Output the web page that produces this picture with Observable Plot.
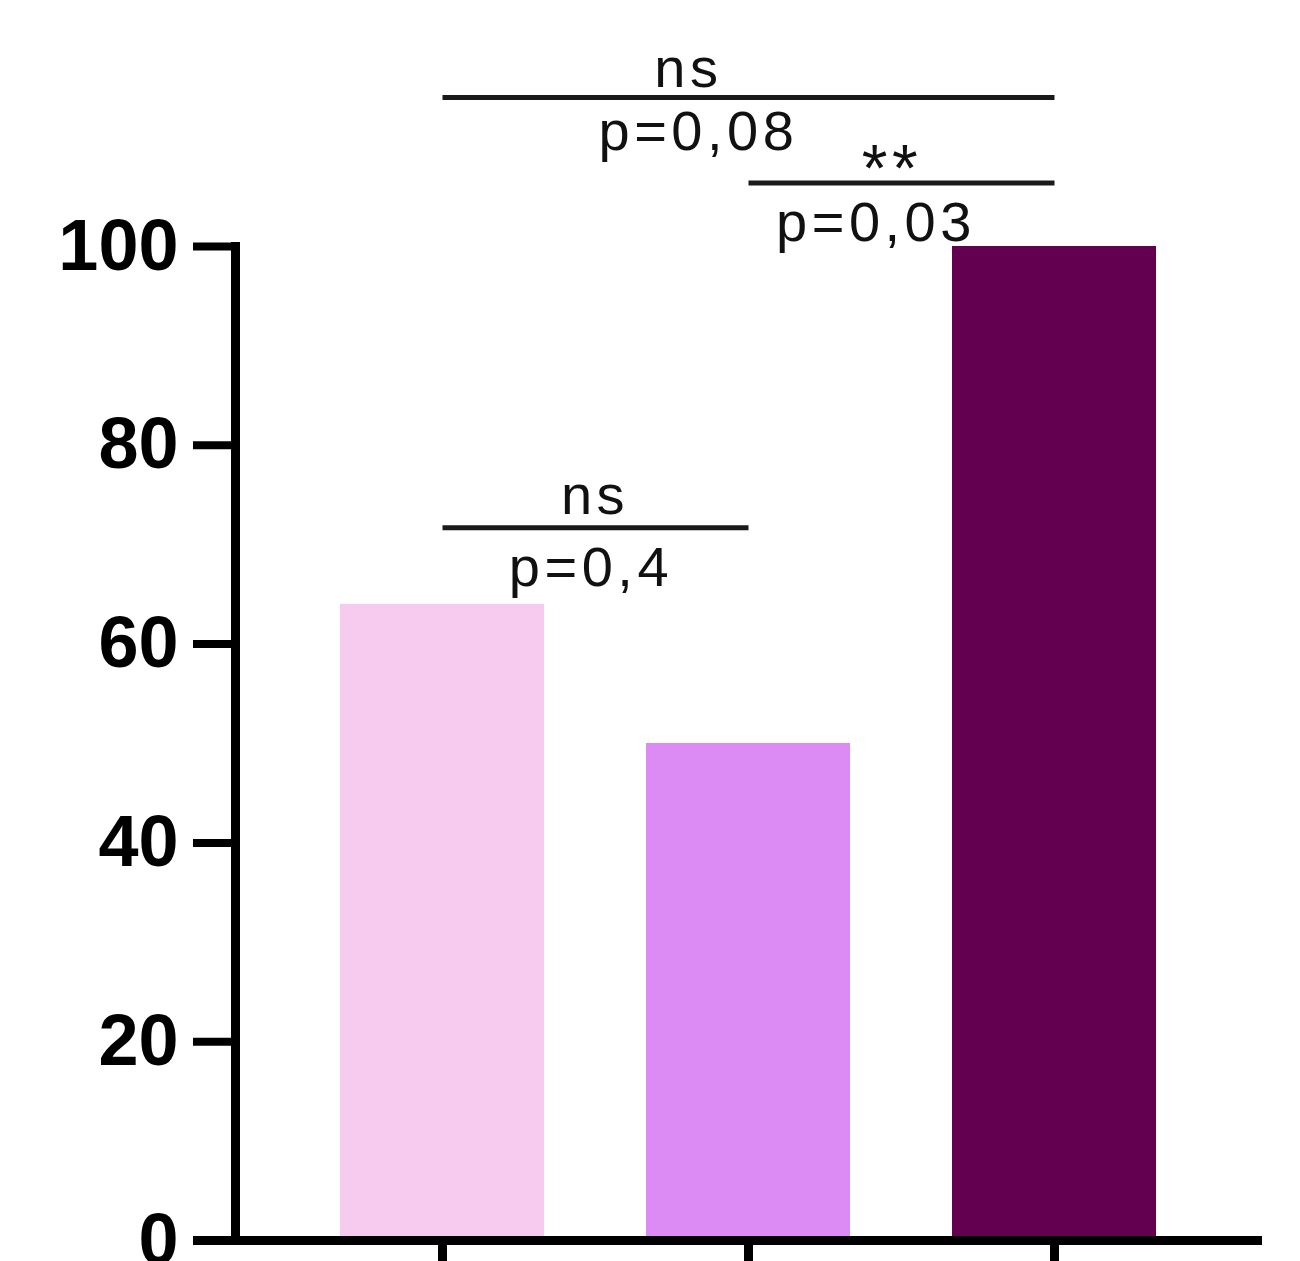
<!DOCTYPE html>
<html>
<head>
<meta charset="utf-8">
<script src="https://cdn.jsdelivr.net/npm/d3@7"></script>
<script src="https://cdn.jsdelivr.net/npm/@observablehq/plot@0.6"></script>
<style>
  html, body { margin: 0; padding: 0; background: #fff; }
  #chart svg { display: block; }
  #chart g[aria-label="text"] text { letter-spacing: 4.5px; }
</style>
</head>
<body>
<div id="chart"></div>
<script>
// ---- data ----
const groups = ["Group 1", "Group 2", "Group 3"];
const values = [64, 50, 100];
const barColors = ["#F7CBEF", "#DD8BF4", "#640050"];
const yTicks = [0, 20, 40, 60, 80, 100];

// comparisons (brackets)
const compFrom = ["Group 1", "Group 2", "Group 1"];
const compTo = ["Group 3", "Group 3", "Group 2"];
const compHeight = [115, 106.4, 71.7];
const compSig = ["ns", "**", "ns"];
const compP = ["p=0,08", "p=0,03", "p=0,4"];

// ---- layout / style (not data) ----
const W = 1300, H = 1261;
const margins = {top: 246, bottom: 21, left: 235, right: 38};
const xOpts = {type: "band", domain: groups, paddingInner: 0.332, paddingOuter: 0.339, align: 0.5};
const sigShift = [-61, -10, -1];
const pShift = [-51, -26, -5];
const sigSize = [56, 66, 56];
const sigDy = [-10, 8, -14];
const pDy = [53, 58, 58];

const bars = groups.map((g, i) => ({group: g, value: values[i]}));
const comps = compFrom.map((f, i) => ({from: f, to: compTo[i], h: compHeight[i], sig: compSig[i], p: compP[i]}));

const xs = Plot.scale({x: {...xOpts, range: [margins.left, W - margins.right]}});

const annotationMarks = [];
comps.forEach((c, i) => {
  const half = (xs.apply(c.to) - xs.apply(c.from)) / 2;
  annotationMarks.push(
    Plot.link([c], {x1: "from", x2: "to", y1: "h", y2: "h", stroke: "#1a1a1a", strokeWidth: 5}),
    Plot.text([c], {x: "from", y: "h", text: "sig", dx: half + sigShift[i], dy: sigDy[i],
      lineAnchor: "bottom", fontSize: sigSize[i], fill: "#111",
      fontFamily: "'Liberation Sans', Arial, sans-serif"}),
    Plot.text([c], {x: "from", y: "h", text: "p", dx: half + pShift[i], dy: pDy[i],
      lineAnchor: "bottom", fontSize: 56, fill: "#111",
      fontFamily: "'Liberation Sans', Arial, sans-serif"})
  );
});

const plot = Plot.plot({
  width: W,
  height: H,
  marginTop: margins.top,
  marginBottom: margins.bottom,
  marginLeft: margins.left,
  marginRight: margins.right,
  style: {fontFamily: "'Liberation Sans', Arial, sans-serif", background: "#fff", overflow: "visible"},
  x: {...xOpts, axis: null},
  y: {domain: [0, 100], axis: null},
  color: {domain: groups, range: barColors},
  marks: [
    Plot.barY(bars, {x: "group", y: "value", fill: "group"}),
    Plot.axisY({ticks: yTicks, tickSize: 42, tickPadding: 15, strokeWidth: 8, stroke: "#000",
      fontSize: 72, fontWeight: "bold", fill: "#000", label: null,
      fontFamily: "'Liberation Sans', Arial, sans-serif"}),
    Plot.axisX({tickSize: 21, tickFormat: () => "", strokeWidth: 9, stroke: "#000", label: null}),
    Plot.frame({anchor: "left", strokeWidth: 9, stroke: "#000"}),
    Plot.ruleY([0], {strokeWidth: 9, stroke: "#000", insetLeft: -42}),
    ...annotationMarks
  ]
});
document.getElementById("chart").appendChild(plot);
</script>
</body>
</html>
